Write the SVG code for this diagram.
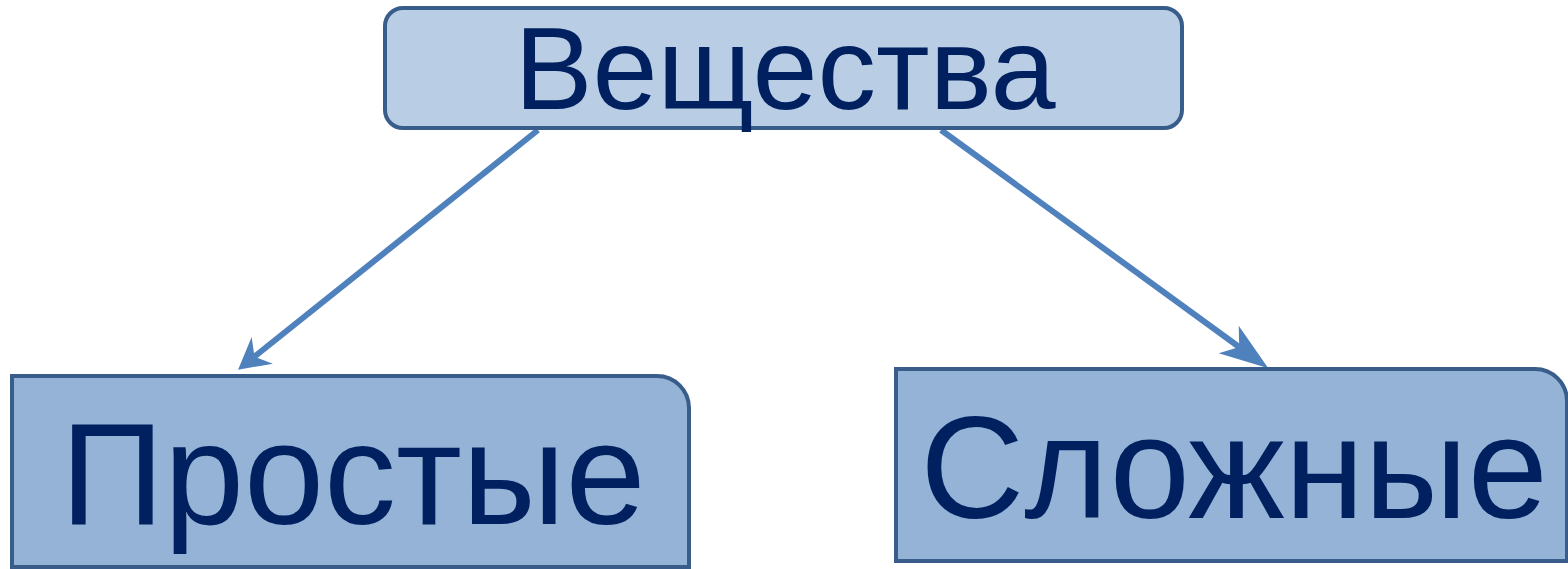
<svg xmlns="http://www.w3.org/2000/svg" width="1568" height="569" viewBox="0 0 1568 569">
<style>
.box{stroke:#385d8a;stroke-width:4}
.top{fill:#b9cde5}
.sub{fill:#95b3d7}
.lbl{font-family:"Liberation Sans",Arial,sans-serif;fill:#002060;text-anchor:middle}
.con{stroke:#4f81bd;stroke-width:6;fill:none}
</style>
<defs>
<marker id="headS" markerUnits="userSpaceOnUse" orient="auto" refX="0" refY="0" markerWidth="60" markerHeight="60" overflow="visible">
<path d="M14,0 L-17,-17 L-7,0 L-17,17 Z" fill="#4f81bd"/>
</marker>
<marker id="headL" markerUnits="userSpaceOnUse" orient="auto" refX="0" refY="0" markerWidth="80" markerHeight="80" overflow="visible">
<path d="M14,0 L-35,-17 L-22,0 L-35,17 Z" fill="#4f81bd"/>
</marker>
</defs>
<g id="connectors">
<path class="con" d="M538,130 L249,361" marker-end="url(#headS)"/>
<path class="con" d="M941,130 L1257,360" marker-end="url(#headL)"/>
</g>
<g id="node-veshchestva">
<rect class="box top" x="385" y="8" width="797" height="120" rx="18"/>
<text class="lbl" x="785" y="109" font-size="117">Вещества</text>
</g>
<g id="node-prostye">
<path class="box sub" d="M12,376 H657 A32,32 0 0 1 689,408 V567 H12 Z"/>
<text class="lbl" x="353" y="524" font-size="144">Простые</text>
</g>
<g id="node-slozhnye">
<path class="box sub" d="M896,369 H1535 A32,32 0 0 1 1567,401 V561 H896 Z"/>
<text class="lbl" x="1234" y="518" font-size="144">Сложные</text>
</g>
</svg>
